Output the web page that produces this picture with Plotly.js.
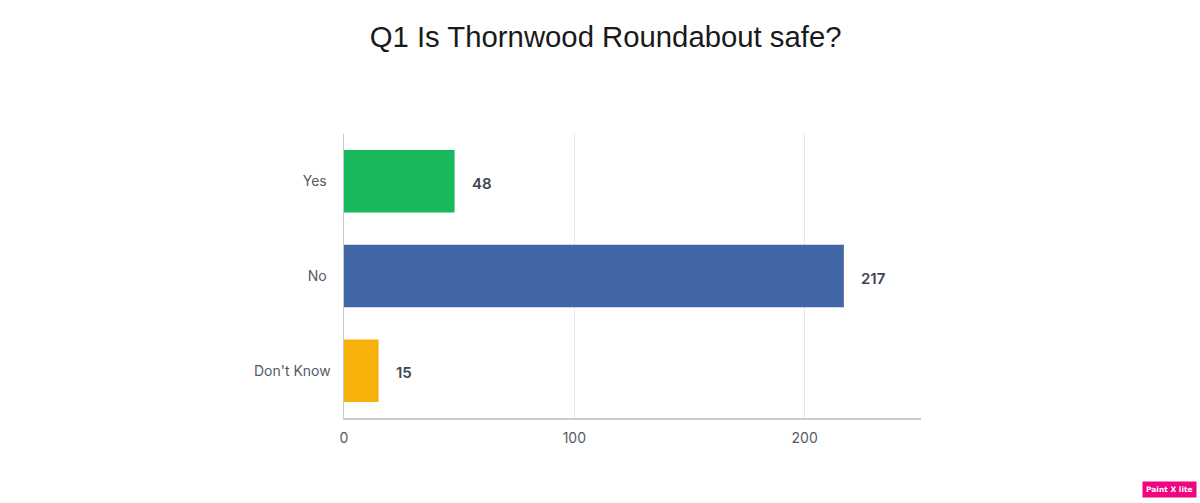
<!DOCTYPE html>
<html>
<head>
<meta charset="utf-8">
<script src="https://cdn.plot.ly/plotly-3.0.1.min.js"></script>
<style>
  html, body { margin: 0; padding: 0; background: #fff; }
</style>
</head>
<body>
<div id="chart" style="width:1200px;height:503px"></div>
<script>
var categories = ["Yes", "No", "Don't Know"];
var responses = [48, 217, 15];
var barColors = ["#19b85c", "#4066a6", "#f6b10a"];
var tickValues = [0, 100, 200];
// Yes and No stop a little short of Don't Know in the original
var categoryLabels = ["Yes\u00a0", "No\u00a0", "Don't Know"];

var data = [{
  type: 'bar',
  orientation: 'h',
  y: categories,
  x: responses,
  marker: {color: barColors},
  hoverinfo: 'none'
}];

// value labels sit about 18px right of each bar
var labels = categories.map(function (c, i) {
  return {
    x: responses[i],
    y: c,
    xref: 'x',
    yref: 'y',
    text: String(responses[i]),
    showarrow: false,
    xanchor: 'left',
    xshift: 15,
    yshift: -2,
    font: {family: 'Inter, sans-serif', size: 15, color: '#3f4650', weight: 600}
  };
});

// the watermark badge in the corner, paper units run past 1 here
labels.push({
  x: 1.4792,
  y: -0.282,
  xref: 'paper',
  yref: 'paper',
  text: '<b>Paint X lite</b>',
  showarrow: false,
  bgcolor: '#f0047f',
  borderpad: 3,
  font: {family: 'DejaVu Sans, sans-serif', size: 7.5, color: '#ffffff'}
});

var layout = {
  width: 1200,
  height: 503,
  paper_bgcolor: '#ffffff',
  plot_bgcolor: '#ffffff',
  showlegend: false,
  margin: {l: 343.5, r: 279, t: 134, b: 85},
  bargap: 0.34,
  title: {
    text: 'Q1 Is Thornwood Roundabout safe?',
    x: 0.5047,
    xanchor: 'center',
    y: 0.927,
    yanchor: 'middle',
    font: {family: 'Liberation Sans, sans-serif', size: 29.3, color: '#1a1a1a'}
  },
  xaxis: {
    range: [0, 250.5],
    tickvals: tickValues,
    showgrid: true,
    gridcolor: '#e6e8ea',
    gridwidth: 1,
    zeroline: false,
    showline: true,
    linecolor: '#c9cbce',
    linewidth: 1.5,
    ticks: '',
    ticklabelstandoff: 7,
    tickfont: {family: 'Inter, sans-serif', size: 14, color: '#555b64'}
  },
  yaxis: {
    autorange: 'reversed',
    tickmode: 'array',
    tickvals: categories,
    ticktext: categoryLabels,
    showgrid: false,
    zeroline: false,
    showline: true,
    linecolor: '#c9cbce',
    linewidth: 1.5,
    ticks: '',
    ticklabelstandoff: 9,
    tickfont: {family: 'Inter, sans-serif', size: 14, color: '#555b64'}
  },
  annotations: labels
};

Plotly.newPlot('chart', data, layout, {displayModeBar: false, staticPlot: true});
</script>
</body>
</html>
